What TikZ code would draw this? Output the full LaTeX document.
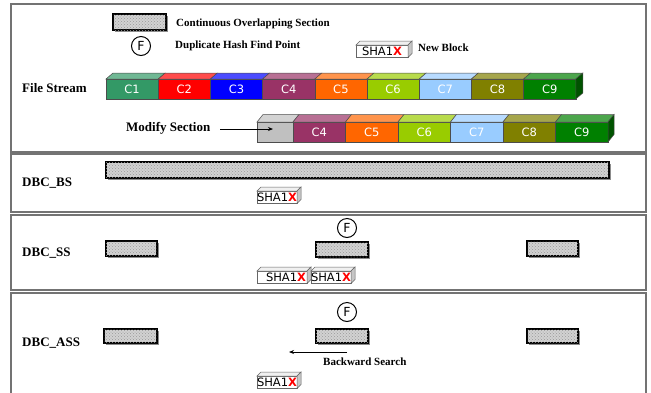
\documentclass[tikz,border=0pt]{standalone}
\usepackage{fontspec}
\setmainfont{Liberation Serif}
\setsansfont{DejaVu Sans}
\usetikzlibrary{patterns,shadows,arrows.meta,calc}
\definecolor{cA}{RGB}{51,153,102}
\definecolor{cB}{RGB}{255,0,0}
\definecolor{cC}{RGB}{0,0,255}
\definecolor{cD}{RGB}{153,51,102}
\definecolor{cE}{RGB}{255,102,0}
\definecolor{cF}{RGB}{153,204,0}
\definecolor{cG}{RGB}{153,204,255}
\definecolor{cH}{RGB}{128,128,0}
\definecolor{cI}{RGB}{0,128,0}
\definecolor{cGray}{RGB}{192,192,192}
\tikzset{
  panel/.style={draw=black!55, line width=1.3pt},
  ovl/.style={draw=black, line width=1.1pt, fill=gray!35,
    postaction={pattern=crosshatch dots, pattern color=gray!80},
    drop shadow={shadow xshift=1.6pt, shadow yshift=-1.6pt, fill=black!45, opacity=1},
    anchor=north west, inner sep=0pt, outer sep=0pt},
  lbl/.style={font=\bfseries\fontsize{13}{15}\selectfont, inner sep=0pt, anchor=west},
  leg/.style={font=\bfseries\fontsize{11}{13}\selectfont, inner sep=0pt, anchor=west},
  chunkbox/.style={draw=black!70, line width=0.5pt, minimum height=20pt,
    anchor=north west, inner sep=0pt, outer sep=0pt, text=white,
    font=\sffamily\fontsize{11.5}{13}\selectfont},
  fmark/.style={circle, draw=black, line width=1pt, minimum size=19pt, inner sep=0pt,
    font=\sffamily\fontsize{12.5}{13}\selectfont},
  shabox/.style={draw=black!60, line width=0.5pt, fill=white, inner xsep=0pt, inner ysep=0pt,
    minimum height=12.5pt, font=\sffamily\fontsize{11.5}{12}\selectfont,
    anchor=north west, outer sep=0pt},
  arr/.style={line width=1pt, -{Stealth[length=5pt,width=4pt]}}
}
% name, x, y, width, height
\newcommand{\ovlbar}[5]{\node[ovl, minimum width=#4pt, minimum height=#5pt] (#1) at (#2,#3) {};}
% name, x, y, width, color, label, dx, dy
\newcommand{\chunkblk}[8]{%
  \node[chunkbox, fill=#5, minimum width=#4pt] (#1) at (#2,#3) {#6};
  \filldraw[fill=#5!70!white, draw=black!70, line width=0.5pt]
    (#1.north west) -- ++(#7,-#8) -- ++(#4,0) -- (#1.north east) -- cycle;}
% name, x, y, width, text
\newcommand{\shablk}[5]{%
  \node[shabox, minimum width=#4pt] (#1) at (#2,#3) {#5};
  \filldraw[fill=gray!12, draw=black!60, line width=0.5pt]
    (#1.north west) -- ++(4,-4) -- ($(#1.north east)+(4,-4)$) -- (#1.north east) -- cycle;
  \filldraw[fill=gray!45, draw=black!60, line width=0.5pt]
    (#1.north east) -- ++(4,-4) -- ($(#1.south east)+(4,-4)$) -- (#1.south east) -- cycle;}
\newcommand{\shatxt}{SHA1\textcolor{red}{\bfseries X}}
\begin{document}
\begin{tikzpicture}[x=1pt,y=-1pt]
\useasboundingbox (0,0) rectangle (651,392);
% panels
\draw[panel] (11,4) rectangle (646,152);
\draw[panel] (11,154) rectangle (646,212);
\draw[panel] (11,215) rectangle (646,290);
\draw[panel] (11,400) -- (11,293) -- (646,293) -- (646,400);

% legend
\ovlbar{legbar}{113}{14}{53}{16}
\node[leg] (legtxt) at (176,24) {Continuous Overlapping Section};
\node[fmark] (legf) at (141,46) {F};
\node[leg] (legf-txt) at (175,46) {Duplicate Hash Find Point};
\shablk{legsha}{356}{45}{52}{\shatxt}
\node[leg] (legsha-txt) at (418,48) {New Block};

% file stream
\node[lbl] (fs) at (22,88) {File Stream};
\chunkblk{a1}{106}{79}{52.2}{cA}{C1}{7}{6}
\chunkblk{a2}{158.2}{79}{52.2}{cB}{C2}{7}{6}
\chunkblk{a3}{210.4}{79}{52.2}{cC}{C3}{7}{6}
\chunkblk{a4}{262.6}{79}{52.2}{cD}{C4}{7}{6}
\chunkblk{a5}{314.8}{79}{52.2}{cE}{C5}{7}{6}
\chunkblk{a6}{367.0}{79}{52.2}{cF}{C6}{7}{6}
\chunkblk{a7}{419.2}{79}{52.2}{cG}{C7}{7}{6}
\chunkblk{a8}{471.4}{79}{52.2}{cH}{C8}{7}{6}
\chunkblk{a9}{523.6}{79}{52.2}{cI}{C9}{7}{6}
\filldraw[fill=cI!65!black, draw=black!70, line width=0.5pt]
  (a9.north east) -- ++(7,-6) -- ++(0,20) -- (a9.south east) -- cycle;

% modify section
\node[lbl] (ms) at (126,128) {Modify Section};
\chunkblk{g}{257}{122}{36}{cGray}{}{6}{7.5}
\chunkblk{b4}{293}{122}{52.5}{cD}{C4}{6}{7.5}
\chunkblk{b5}{345.5}{122}{52.5}{cE}{C5}{6}{7.5}
\chunkblk{b6}{398}{122}{52.5}{cF}{C6}{6}{7.5}
\chunkblk{b7}{450.5}{122}{52.5}{cG}{C7}{6}{7.5}
\chunkblk{b8}{503}{122}{52.5}{cH}{C8}{6}{7.5}
\chunkblk{b9}{555.5}{122}{52.5}{cI}{C9}{6}{7.5}
\filldraw[fill=cI!65!black, draw=black!70, line width=0.5pt]
  (b9.north east) -- ++(6,-7.5) -- ++(0,20) -- (b9.south east) -- cycle;
\coordinate (mstart) at (220,129);
\coordinate (mtip) at (273,129);
\draw[arr] (mstart) -- (mtip);

% DBC_BS
\node[lbl] (bs) at (22,183) {DBC\_BS};
\ovlbar{bsbar}{106}{162}{503}{16}
\shablk{bssha}{257}{191}{35}{\shatxt}

% DBC_SS
\node[lbl] (ss) at (22,253) {DBC\_SS};
\ovlbar{ss1}{106}{241}{51}{15}
\ovlbar{ss2}{316}{242}{52}{15}
\ovlbar{ss3}{527}{241}{51}{15}
\node[fmark] (ssf) at (347,228) {F};
\shablk{sssha1}{257}{271}{50}{\hspace{8pt}\shatxt}
\shablk{sssha2}{311}{271}{34}{\shatxt}

% DBC_ASS
\node[lbl] (as) at (22,343) {DBC\_ASS};
\ovlbar{as1}{104}{329}{53}{14}
\ovlbar{as2}{316}{329}{52}{14}
\ovlbar{as3}{527}{329}{51}{14}
\node[fmark] (asf) at (347,312) {F};
\coordinate (bstart) at (347,352);
\coordinate (btip) at (289,352);
\draw[arr] (bstart) -- (btip);
\node[leg] (bw) at (323,362) {Backward Search};
\shablk{assha}{257}{376}{35}{\shatxt}
\end{tikzpicture}
\end{document}
